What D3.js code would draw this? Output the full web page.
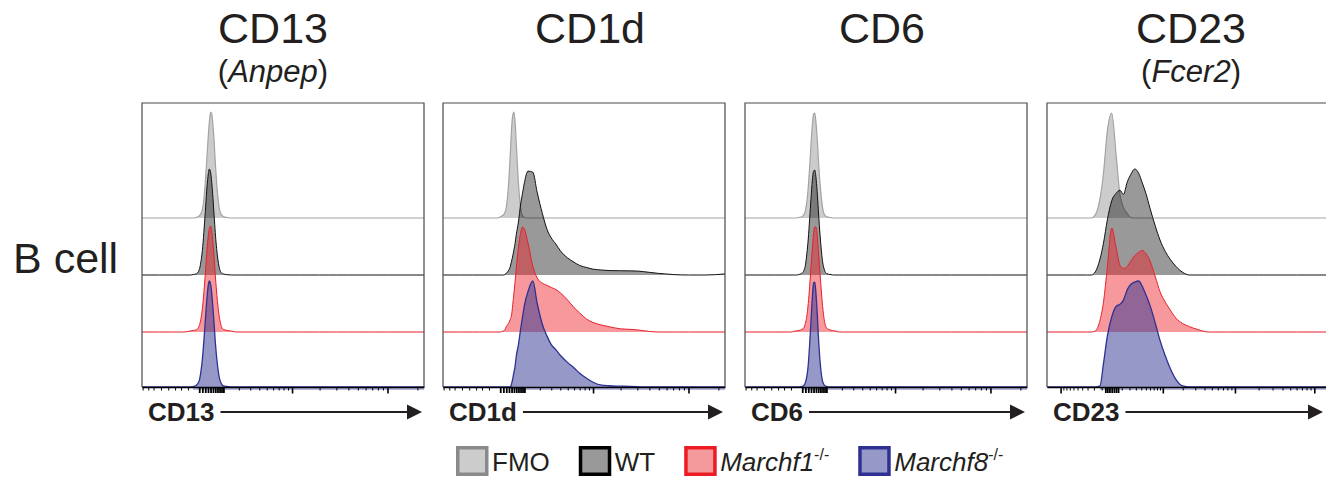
<!DOCTYPE html>
<html>
<head>
<meta charset="utf-8">
<script src="https://cdn.jsdelivr.net/npm/d3@7"></script>
<style>
  body { margin: 0; background: #fff; }
  text { font-family: "Liberation Sans", Arial, sans-serif; fill: #231f20; }
</style>
</head>
<body>
<script>

// ---- data -------------------------------------------------------------

var markers = ["CD13", "CD1d", "CD6", "CD23"];
var genes = ["Anpep", "", "", "Fcer2"];
var samples = ["FMO", "WT", "Marchf1", "Marchf8"];
var rowLabel = "B cell";

// bin centres (fluorescence units) for CD13 / CD1d / CD6
var binsA = [-3670, -2000, -1200, -800, -600, -400, -300, -200, -100, 0,
             50, 100, 150, 200, 250, 300, 350, 400, 450, 500,
             550, 600, 700, 800, 900, 1000, 1200, 1500, 1800, 2200,
             2600, 3000, 3500, 4000, 5000, 6000, 7000, 8500, 10000, 12500,
             15000, 20000, 25000, 30000, 40000, 50000, 70000, 100000, 150000, 233000];

// bin centres for CD23 (other compensation / scaling)
var binsB = [-1620, -600, -300, -240, -180, -120, -80, -40, 0, 40,
             80, 120, 170, 220, 280, 350, 420, 500, 600, 750,
             900, 1100, 1300, 1600, 2000, 2500, 3200, 4500, 8000, 20000,
             60000, 152700];

// histogram heights, % of mode
var cd13FMO = [0,0,0,0,0,0,0,0,0.5,2, 4,8,17,33,53,73,90,100,98,87, 72,53,24,8,3,1.5,0.5,0,0,0,
               0,0,0,0,0,0,0,0,0,0, 0,0,0,0,0,0,0,0,0,0];
var cd13WT  = [0,0,0,0,0,0,0,0.5,1,5, 12,23,40,59,79,93,100,97,87,72, 56,40,18,6,2,1,0.3,0,0,0,
               0,0,0,0,0,0,0,0,0,0, 0,0,0,0,0,0,0,0,0,0];
var cd13M1  = [0,0,0,0,0,0.5,1,1.5,2,6, 12,22,37,54,73,88,97,100,95,84, 70,54,29,13,5,2.5,1.5,0.8,0,0,
               0,0,0,0,0,0,0,0,0,0, 0,0,0,0,0,0,0,0,0,0];
var cd13M8  = [0,0,0,0,0,0,0,0.5,1.5,6, 14,26,43,62,80,94,100,97,88,74, 59,43,21,8,3,1,0.5,0,0,0,
               0,0,0,0,0,0,0,0,0,0, 0,0,0,0,0,0,0,0,0,0];

var cd1dFMO = [0,0,0,0,0,0,0,0,0,1, 2,3,5,10,21,38,60,84,97,100, 90,70,33,10,2,0.5,0,0,0,0,
               0,0,0,0,0,0,0,0,0,0, 0,0,0,0,0,0,0,0,0,0];
var cd1dWT  = [0,0,0,0,0,0,0,0,0,0, 0,0,0.5,1.5,3,5,8,13,18,24, 30,38,50,66,77,87,98,97,78,58,
               43,35,29,23,16,12,9,7,5.5,4.7, 4.2,4,3.9,3.7,2.5,1.5,0.4,0,0,1];
var cd1dM1  = [0,0,0,0,0,0,0,0,0,0, 0.5,1,2,5,7,9,12,16,26,37, 48,60,80,93,99,97,84,62,51,46,
               44,42,40,37,30,23,18,12,9,6.5, 5,3,2.5,2,0.5,0,0,0,0,0];
var cd1dM8  = [0,0,0,0,0,0,0,0,0,0, 0,0,0,0,0,0,0,3,8,14, 20,29,40,54,66,77,90,100,79,59,
               48,40,35,30,23,18,13,8,4.5,1.7, 1.2,0.8,0.5,0.3,0,0,0,0,0,0];

var cd6FMO  = [0,0,0,0,0,0,0,0,0.5,1.5, 3,7,15,29,48,69,87,98,99,90, 76,57,28,10,3,1.5,0.5,0,0,0,
               0,0,0,0,0,0,0,0,0,0, 0,0,0,0,0,0,0,0,0,0];
var cd6WT   = [0,0,0,0,0,0,0,0,0.5,2, 4,9,20,34,53,72,89,98,99,92, 79,62,33,13,4.5,1.5,0.5,0,0,0,
               0,0,0,0,0,0,0,0,0,0, 0,0,0,0,0,0,0,0,0,0];
var cd6M1   = [0,0,0,0,0,0,0.5,1,1.5,2.5, 4,8,15,27,43,61,78,93,99,99, 92,78,50,25,10,4,2,1,0,0,
               0,0,0,0,0,0,0,0,0,0, 0,0,0,0,0,0,0,0,0,0];
var cd6M8   = [0,0,0,0,0,0,0,0,0,0.5, 1.5,4,10,21,40,62,84,98,99,88, 71,50,20,5.5,1.5,0.5,0,0,0,0,
               0,0,0,0,0,0,0,0,0,0, 0,0,0,0,0,0,0,0,0,0];

var cd23FMO = [0,0,0,0,3,18,42,82,99,60, 22,10,4,0.5,0,0,0,0,0,0, 0,0,0,0,0,0,0,0,0,0, 0,0];
var cd23WT  = [0,0,0,0,3,15,30,52,70,77, 80,76,88,95,100,96,87,77,63,46, 33,22,15,8,2.5,0,0,0,0,0, 0,0];
var cd23M1  = [0,0,0,0,1,11,28,61,98,80, 63,60,62,67,72,75,77,74,67,52, 38,28,21,13,8,5,2.5,0,0,0, 0,0];
var cd23M8  = [0,0,0,0,0,1,22,48,66,76, 78,82,92,97,99,100,95,87,77,60, 44,29,18,7,1,0,0,0,0,0, 0,0];

// axis tick values
var ticksAMinor = [-3600, -3000, -2500, -1900, -1400, -1000, -700, -400,
                   2000, 3000, 4000, 5000, 6000, 7000, 8000, 9000,
                   20000, 30000, 40000, 50000, 60000, 70000, 80000, 90000, 200000];
var ticksAZero  = [0, 100, 200, 300, 400, 500, 600, 700, 800, 900, 1000];
var ticksAMajor = [10000, 100000];

var ticksBMinor = [-900, -800, -700, -600, -500, -400, -300, -200, -100,
                   100, 200, 300, 400, 500, 600, 700, 800, 900,
                   2000, 3000, 4000, 5000, 6000, 7000, 8000, 9000,
                   20000, 30000, 40000, 50000, 60000, 70000, 80000, 90000];
var ticksBZero  = [-60, -40, -20, 0, 20, 40, 60];
var ticksBMajor = [-1000, 1000, 10000, 100000];

// ---- layout -----------------------------------------------------------

var W = 1326, H = 477;
var panelLeft = [142, 443, 745, 1047],
    panelW = 282,
    panelTop = 103,
    panelBottom = 387;
var laneBase = [218, 275, 332, 387],
    peakH = 106;
var titleX = [273, 590, 882, 1191];
var symConst = [1350, 1350, 1350, 300];

var panelBins   = [binsA, binsA, binsA, binsB];
var panelSeries = [[cd13FMO, cd13WT, cd13M1, cd13M8],
                   [cd1dFMO, cd1dWT, cd1dM1, cd1dM8],
                   [cd6FMO, cd6WT, cd6M1, cd6M8],
                   [cd23FMO, cd23WT, cd23M1, cd23M8]];
var panelTicks  = [[ticksAMinor, ticksAZero, ticksAMajor],
                   [ticksAMinor, ticksAZero, ticksAMajor],
                   [ticksAMinor, ticksAZero, ticksAMajor],
                   [ticksBMinor, ticksBZero, ticksBMajor]];

var fills   = ["rgba(128,128,128,0.4)", "rgba(0,0,0,0.4)", "rgba(237,28,36,0.45)", "rgba(46,49,146,0.5)"];
var strokes = ["#a3a3a3", "#111111", "#e8202a", "#2e3192"];
var widths  = [1.2, 1.0, 1.0, 1.3];
var legFill = ["#cccccc", "#999999", "#f4999c", "#9698c8"];
var legLine = ["#8a8a8a", "#000000", "#ed1c24", "#2e3192"];

var svg = d3.select("body").append("svg")
    .attr("width", W)
    .attr("height", H);

// row label
svg.append("text")
    .attr("x", 13)
    .attr("y", 273)
    .attr("font-size", 43)
    .text(rowLabel);

markers.forEach(function(marker, i) {
  var left = panelLeft[i],
      right = left + panelW,
      bins = panelBins[i];

  var x = d3.scaleSymlog()
      .constant(symConst[i])
      .domain([bins[0], bins[bins.length - 1]])
      .range([left, right]);

  var g = svg.append("g");

  // titles
  g.append("text")
      .attr("x", titleX[i])
      .attr("y", 43)
      .attr("text-anchor", "middle")
      .attr("font-size", 43)
      .text(marker);

  if (genes[i]) {
    var sub = g.append("text")
        .attr("x", titleX[i])
        .attr("y", 82)
        .attr("text-anchor", "middle")
        .attr("font-size", 31);
    sub.append("tspan").text("(");
    sub.append("tspan").attr("font-style", "italic").text(genes[i]);
    sub.append("tspan").text(")");
  }

  // light blue band under the axis (bottom lane's fill)
  var blue = panelSeries[i][3];
  var firstBlue = blue.findIndex(function(v) { return v > 0; });
  g.append("line")
      .attr("x1", x(bins[firstBlue]))
      .attr("x2", right)
      .attr("y1", panelBottom + 1.5)
      .attr("y2", panelBottom + 1.5)
      .attr("stroke", "#b4b6dc")
      .attr("stroke-width", 3);

  // offset histograms, top lane first so lower lanes sit in front
  panelSeries[i].forEach(function(vals, j) {
    var y = d3.scaleLinear()
        .domain([0, 100])
        .range([laneBase[j], laneBase[j] - peakH]);

    var area = d3.area()
        .x(function(d, k) { return x(bins[k]); })
        .y0(laneBase[j])
        .y1(function(d) { return y(d); })
        .curve(d3.curveMonotoneX);

    var line = d3.line()
        .x(function(d, k) { return x(bins[k]); })
        .y(function(d) { return y(d); })
        .curve(d3.curveMonotoneX);

    g.append("path")
        .datum(vals)
        .attr("d", area)
        .attr("fill", fills[j]);

    g.append("path")
        .datum(vals)
        .attr("d", line)
        .attr("fill", "none")
        .attr("stroke", strokes[j])
        .attr("stroke-width", widths[j]);
  });

  // frame (left, top, right)
  g.append("path")
      .attr("d", "M" + left + "," + panelBottom + "V" + panelTop + "H" + right + "V" + panelBottom)
      .attr("fill", "none")
      .attr("stroke", "#4a4a4a")
      .attr("stroke-width", 1.2);

  // axis: minor, zero cluster, major
  var tk = panelTicks[i];
  var minorAx = g.append("g")
      .attr("transform", "translate(0," + panelBottom + ")")
      .call(d3.axisBottom(x).tickValues(tk[0]).tickSize(3.5).tickSizeOuter(0).tickFormat(""));
  minorAx.select(".domain").attr("stroke-width", 1.6);
  minorAx.selectAll(".tick line").attr("stroke-width", 1);

  var zeroAx = g.append("g")
      .attr("transform", "translate(0," + panelBottom + ")")
      .call(d3.axisBottom(x).tickValues(tk[1]).tickSize(6).tickFormat(""));
  zeroAx.select(".domain").remove();
  zeroAx.selectAll(".tick line").attr("stroke-width", 1.8);

  var majorAx = g.append("g")
      .attr("transform", "translate(0," + panelBottom + ")")
      .call(d3.axisBottom(x).tickValues(tk[2]).tickSize(6.5).tickFormat(""));
  majorAx.select(".domain").remove();
  majorAx.selectAll(".tick line").attr("stroke-width", 1.6);

  // axis name with arrow
  var lab = g.append("text")
      .attr("x", left + 6)
      .attr("y", 421)
      .attr("font-size", 26)
      .attr("font-weight", "bold")
      .text(marker);
  var labEnd = left + 6 + lab.node().getComputedTextLength();
  var tipX = Math.min(right - 2, W - 3);

  g.append("line")
      .attr("x1", labEnd + 6)
      .attr("x2", tipX - 10)
      .attr("y1", 412)
      .attr("y2", 412)
      .attr("stroke", "#231f20")
      .attr("stroke-width", 2);

  g.append("path")
      .attr("d", "M" + tipX + ",412L" + (tipX - 15) + ",404.5L" + (tipX - 15) + ",419.5Z")
      .attr("fill", "#231f20");
});

// legend
var legend = svg.append("g");
var lx = 456;
samples.forEach(function(name, i) {
  legend.append("rect")
      .attr("x", lx + 1.75)
      .attr("y", 447.75)
      .attr("width", 29)
      .attr("height", 26.5)
      .attr("fill", legFill[i])
      .attr("stroke", legLine[i])
      .attr("stroke-width", 3.5);

  var t = legend.append("text")
      .attr("x", lx + 36)
      .attr("y", 471)
      .attr("font-size", 26);
  if (i < 2) {
    t.text(name);
  } else {
    t.append("tspan").attr("font-style", "italic").text(name);
    t.append("tspan").attr("font-size", 16).attr("dy", -11).text("-/-");
  }
  lx = lx + 36 + t.node().getComputedTextLength() + 29;
});

</script>
</body>
</html>
